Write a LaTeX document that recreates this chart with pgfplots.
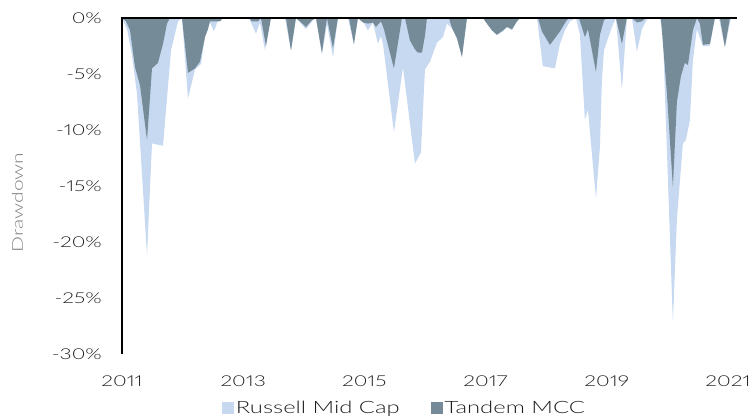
\documentclass[border=0pt]{standalone}
\usepackage{fontspec}
\setmainfont{Lato}[FakeStretch=1.4, Numbers=Proportional, UprightFont={* Light}]
\usepackage{pgfplots}
\pgfplotsset{compat=1.18}
\definecolor{rmc}{RGB}{198,217,241}
\definecolor{tmcc}{RGB}{118,139,152}
\definecolor{ticktext}{RGB}{30,30,30}
\definecolor{labeltext}{RGB}{128,128,128}
\begin{document}
\begin{tikzpicture}
\begin{axis}[
  name=ax,
  at={(122pt,62pt)}, anchor=south west,
  width=615pt, height=336pt, scale only axis,
  xmin=2011, xmax=2021.15, ymin=-30, ymax=0,
  clip=false,
  axis y line*=left, axis x line*=bottom,
  axis line style={draw=none},
  major tick length=0pt,
  xtick={2011,2013,2015,2017,2019,2021},
  xticklabels={2011,2013,2015,2017,2019,2021},
  ytick={-30,-25,-20,-15,-10,-5,0},
  yticklabels={-30\%,-25\%,-20\%,-15\%,-10\%,-5\%,0\%},
  tick label style={font=\fontsize{15}{18}\selectfont, text=ticktext, inner sep=0pt},
  x tick label style={anchor=north, yshift=-22pt},
  y tick label style={anchor=east, xshift=-20pt},
  ylabel={Drawdown},
  ylabel style={font=\fontsize{15}{18}\selectfont, text=labeltext, at={(axis description cs:-0.1699,0.451)}, anchor=center},
  legend style={at={(axis description cs:0.1626,-0.1399)}, anchor=north west, draw=none, fill=none, inner sep=0pt, outer sep=0pt,
    font=\fontsize{17}{20}\selectfont, text=ticktext,
    /tikz/every odd column/.append style={column sep=2pt},
    /tikz/every even column/.append style={column sep=31pt},
    nodes={inner sep=0pt, anchor=base west}},
  legend columns=2,
  legend image code/.code={\fill[#1] (0pt,-1pt) rectangle (12pt,11pt);},
]
\addplot[fill=rmc, draw=none] table {
x y
2011.000 0
2011.083 -1.0
2011.165 -3.3
2011.248 -6.8
2011.413 -21.2
2011.495 -11.2
2011.578 -11.3
2011.677 -11.4
2011.809 -2.9
2011.924 -0.3
2011.990 0
2012.089 -7.2
2012.205 -4.6
2012.304 -4.1
2012.386 -1.0
2012.452 -0.4
2012.518 -1.2
2012.584 -0.2
2012.650 0
2013.096 0
2013.211 -1.4
2013.277 -0.4
2013.360 -2.9
2013.442 0
2013.690 0
2013.789 -2.9
2013.871 0
2013.937 -0.4
2014.036 -1.0
2014.135 -0.3
2014.201 0
2014.300 -3.3
2014.383 -0.5
2014.482 -3.5
2014.564 0
2014.729 0
2014.828 -2.4
2014.894 0
2014.977 -0.3
2015.059 -1.1
2015.142 -0.4
2015.224 -2.3
2015.274 -1.6
2015.307 -2.3
2015.488 -10.2
2015.637 -4.4
2015.835 -13.0
2015.934 -12.0
2016.000 -4.6
2016.083 -3.9
2016.198 -2.2
2016.297 -1.7
2016.363 -0.5
2016.446 -0.9
2016.528 -1.8
2016.611 -3.4
2016.693 0
2016.957 0
2017.023 -0.5
2017.106 -1.1
2017.188 -1.5
2017.287 -1.2
2017.353 -0.8
2017.436 -1.1
2017.518 -0.3
2017.568 0
2017.848 0
2017.947 -4.3
2018.145 -4.5
2018.228 -2.3
2018.310 -1.1
2018.393 -0.3
2018.492 0
2018.558 -1.5
2018.640 -9.1
2018.690 -8.2
2018.822 -16.1
2018.888 -11.5
2018.921 -5.5
2018.954 -2.9
2019.003 -2.1
2019.086 -0.8
2019.152 0
2019.251 -6.4
2019.333 0
2019.416 0
2019.498 -3.0
2019.581 -1.0
2019.647 -0.3
2019.680 0
2019.878 0
2019.927 -1.5
2020.092 -27.2
2020.158 -18.0
2020.257 -11.2
2020.307 -10.9
2020.373 -9.1
2020.422 -3.8
2020.488 -1.0
2020.587 -2.5
2020.703 -2.5
2020.785 0
2020.851 0
2020.950 -2.6
2021.050 0
2021.116 0
};
\addlegendentry{Russell Mid Cap}
\addplot[fill=tmcc, draw=none] table {
x y
2011.000 0
2011.066 -0.3
2011.132 -1.1
2011.215 -4.4
2011.297 -6.0
2011.413 -10.9
2011.495 -4.5
2011.594 -4.0
2011.677 -2.3
2011.743 -0.5
2011.792 0
2011.990 0
2012.089 -4.9
2012.205 -4.5
2012.287 -3.9
2012.370 -1.7
2012.419 -1.0
2012.452 -0.3
2012.617 -0.3
2012.667 0
2013.096 0
2013.145 -0.3
2013.244 -0.3
2013.294 0
2013.376 -2.5
2013.459 0
2013.706 0
2013.789 -2.9
2013.871 0
2013.937 -0.3
2014.036 -0.8
2014.135 -0.2
2014.201 0
2014.300 -3.1
2014.383 0
2014.482 -2.7
2014.564 0
2014.746 0
2014.828 -2.3
2014.894 0
2014.977 -0.4
2015.059 -0.5
2015.142 -0.4
2015.191 -0.8
2015.274 -0.3
2015.323 -1.0
2015.488 -4.5
2015.620 0
2015.670 0
2015.752 -2.0
2015.835 -2.8
2015.884 -3.1
2015.950 -3.1
2016.000 -1.6
2016.033 0
2016.396 0
2016.446 -0.9
2016.528 -1.8
2016.611 -3.5
2016.693 0
2016.957 0
2017.023 -0.5
2017.106 -1.1
2017.188 -1.5
2017.287 -1.1
2017.353 -0.8
2017.436 -1.0
2017.518 -0.3
2017.568 0
2017.865 0
2017.931 -1.2
2018.063 -2.4
2018.228 -1.2
2018.327 -0.3
2018.376 0
2018.541 0
2018.640 -1.7
2018.690 -1.0
2018.822 -4.8
2018.888 -1.5
2018.954 -0.2
2019.003 0
2019.152 0
2019.251 -2.3
2019.333 0
2019.416 0
2019.498 -0.4
2019.581 -0.3
2019.647 0
2019.894 0
2019.993 -6.7
2020.092 -15.1
2020.158 -7.5
2020.224 -5.2
2020.290 -4.0
2020.340 -4.2
2020.422 -1.1
2020.488 0
2020.538 -0.5
2020.587 -2.4
2020.703 -2.3
2020.785 0
2020.868 0
2020.950 -2.6
2021.033 0
2021.116 0
};
\addlegendentry{Tandem MCC}
\end{axis}
\draw[line width=2.5pt, black] ([xshift=-1.2pt]ax.north west) -- (ax.north east);
\draw[line width=2.5pt, black] (ax.south west) -- ([yshift=1.2pt]ax.north west);
\pgfresetboundingbox
\path[use as bounding box] (0,0) rectangle (756pt,416pt);
\end{tikzpicture}
\end{document}
